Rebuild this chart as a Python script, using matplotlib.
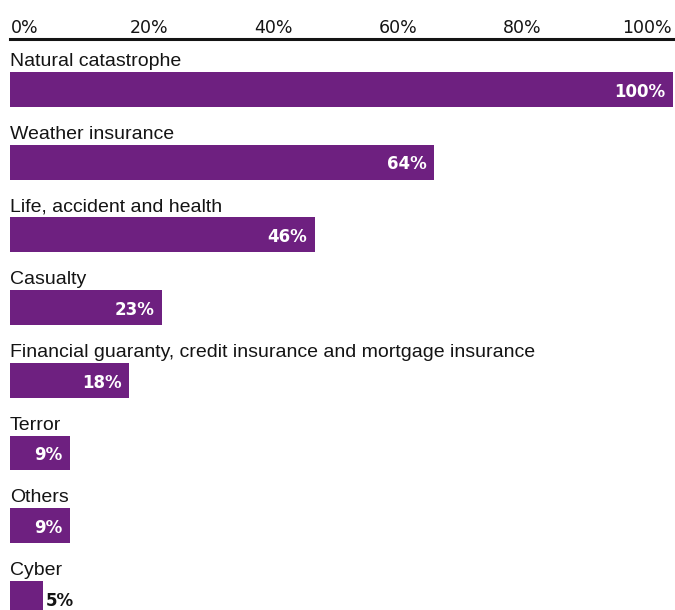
import matplotlib
matplotlib.use("Agg")
import matplotlib.pyplot as plt
plt.rcParams["font.family"] = "Liberation Sans"

categories = [
    "Natural catastrophe",
    "Weather insurance",
    "Life, accident and health",
    "Casualty",
    "Financial guaranty, credit insurance and mortgage insurance",
    "Terror",
    "Others",
    "Cyber",
]
shares = [100, 64, 46, 23, 18, 9, 9, 5]
tick_values = [0, 20, 40, 60, 80, 100]

PURPLE = "#6E2080"
INK = "#141414"

fig = plt.figure(figsize=(6.75, 6.10), dpi=100)
ax = fig.add_axes([10 / 675, 0, 663 / 675, (610 - 39.3) / 610])

ypos = list(range(len(categories)))
ax.barh(ypos, shares, height=0.48, color=PURPLE)
ax.set_xlim(0, 100)
ax.set_ylim(7.16, -0.69)

for y, name, v in zip(ypos, categories, shares):
    ax.text(0, y - 0.32, name, ha="left", va="baseline", fontsize=14, color=INK)
    if v >= 8:
        ax.annotate(f"{v}%", (v, y), xytext=(-5.5, -0.2), textcoords="offset points",
                    ha="right", va="center_baseline", fontsize=12,
                    fontweight="bold", color="white", family="DejaVu Sans")
    else:
        ax.annotate(f"{v}%", (v, y), xytext=(2, -0.2), textcoords="offset points",
                    ha="left", va="center_baseline", fontsize=12,
                    fontweight="bold", color=INK, family="DejaVu Sans")

# main axis: only the top rule
ax.set_xticks([])
ax.set_yticks([])
for side in ["left", "right", "bottom"]:
    ax.spines[side].set_visible(False)
ax.spines["top"].set_linewidth(2.2)
ax.spines["top"].set_color(INK)

# tick labels sit slightly inset from the rule ends
sec = ax.secondary_xaxis("top", functions=(lambda x: (x - 2.262) / 0.938,
                                           lambda v: 2.262 + 0.938 * v))
sec.set_xticks(tick_values)
sec.set_xticklabels([f"{t}%" for t in tick_values], family="DejaVu Sans")
sec.tick_params(length=0, pad=1.5, labelsize=12.5, labelcolor=INK)
for s in sec.spines.values():
    s.set_visible(False)

fig.savefig("out.png", dpi=100)
